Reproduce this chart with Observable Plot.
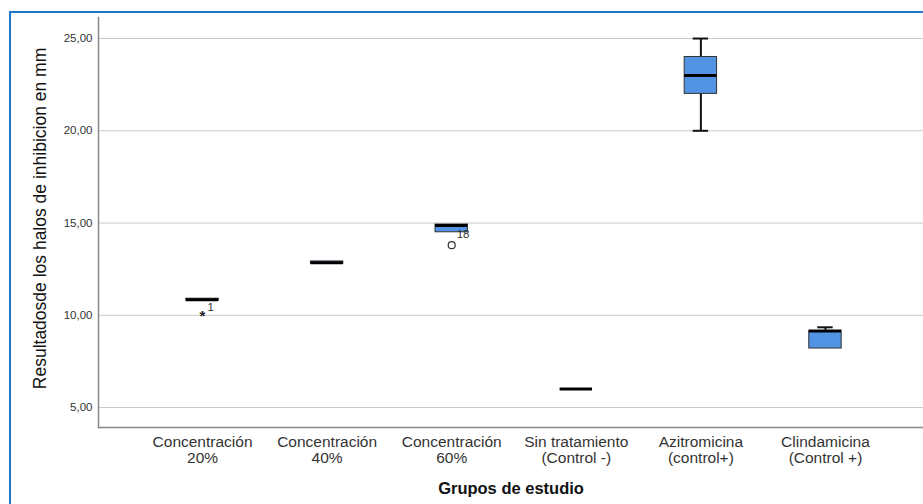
<!DOCTYPE html>
<html>
<head>
<meta charset="utf-8">
<script src="https://cdn.jsdelivr.net/npm/d3@7"></script>
<script src="https://cdn.jsdelivr.net/npm/@observablehq/plot@0.6"></script>
<style>
  html, body { margin: 0; padding: 0; background: #fff; overflow: hidden; }
  #wrap { position: relative; width: 923px; height: 504px; overflow: hidden; }
  #border { position: absolute; left: 9px; top: 11px; width: 1000px; height: 600px; border: 2px solid #1f78c9; box-sizing: border-box; pointer-events: none; }
  #chart { position: absolute; left: 0; top: 0; }
</style>
</head>
<body>
<div id="wrap"><div id="chart"></div><div id="border"></div></div>
<script>
const groups = ["Concentración\n20%", "Concentración\n40%", "Concentración\n60%", "Sin tratamiento\n(Control -)", "Azitromicina\n(control+)", "Clindamicina\n(Control +)"];
const whiskerLow  = [10.8, 12.8, 14.5, 6.0, 20.0, 8.2];
const q1          = [10.8, 12.8, 14.5, 6.0, 22.0, 8.2];
const median      = [10.85, 12.85, 14.87, 6.0, 23.0, 9.15];
const q3          = [10.9, 12.92, 14.92, 6.0, 24.0, 9.15];
const whiskerHigh = [10.9, 12.92, 14.92, 6.0, 25.0, 9.35];
const outlierGroup = [0, 2];
const outlierValue = [10.0, 13.8];
const outlierLabel = ["1", "18"];
const outlierSymbol = ["star", "circle"];
const yTicks = [5, 10, 15, 20, 25];

const boxes = groups.map((g, i) => ({group: g, lo: whiskerLow[i], q1: q1[i], med: median[i], q3: q3[i], hi: whiskerHigh[i]}));
const outliers = outlierGroup.map((gi, i) => ({group: groups[gi], value: outlierValue[i], label: outlierLabel[i], symbol: outlierSymbol[i]}));
const stars = outliers.filter(d => d.symbol === "star");
const circles = outliers.filter(d => d.symbol === "circle");

const fmt = d => d.toFixed(2).replace(".", ",");

const chart = Plot.plot({
  width: 923,
  height: 504,
  marginLeft: 98,
  marginRight: 0,
  marginTop: 17,
  marginBottom: 77,
  style: {fontFamily: "'Liberation Sans', Arial, sans-serif", background: "transparent", overflow: "visible"},
  x: {domain: groups, range: [98, 929], paddingInner: 0.74, paddingOuter: 0.705, round: false, label: null},
  y: {domain: [3.92, 26.14], label: null},
  marks: [
    Plot.gridY(yTicks, {stroke: "#c8c8c8", strokeOpacity: 1, strokeWidth: 1}),
    Plot.axisY(yTicks, {tickSize: 0, tickPadding: 6, tickFormat: fmt, fontSize: 11.5, fill: "#333", label: null}),
    Plot.axisX({tickSize: 0, tickPadding: 8, fontSize: 15.5, fill: "#333", label: null, lineHeight: 1.05}),
    Plot.ruleX(boxes.filter(d => d.lo < d.q1), {x: "group", y1: "lo", y2: "q1", stroke: "#111", strokeWidth: 2}),
    Plot.ruleX(boxes.filter(d => d.hi > d.q3), {x: "group", y1: "q3", y2: "hi", stroke: "#111", strokeWidth: 2}),
    Plot.tickY(boxes.filter(d => d.lo < d.q1), {x: "group", y: "lo", stroke: "#111", strokeWidth: 2, insetLeft: 8.5, insetRight: 8.5}),
    Plot.tickY(boxes.filter(d => d.hi > d.q3), {x: "group", y: "hi", stroke: "#111", strokeWidth: 2, insetLeft: 8.5, insetRight: 8.5}),
    Plot.rectY(boxes.filter(d => d.q3 > d.q1), {x: "group", y1: "q1", y2: "q3", fill: "#5293e3", stroke: "#333", strokeWidth: 1}),
    Plot.tickY(boxes, {x: "group", y: "med", stroke: "#000", strokeWidth: 3}),
    Plot.dot(circles, {x: "group", y: "value", r: 3.5, stroke: "#333", strokeWidth: 1.2, fill: "white"}),
    Plot.text(stars, {x: "group", y: "value", text: () => "*", fontSize: 15, fontWeight: "bold", fill: "#222", dy: 1}),
    Plot.text(stars, {x: "group", y: "value", text: "label", fontSize: 11.5, fill: "#333", textAnchor: "start", dx: 5, dy: -8}),
    Plot.text(circles, {x: "group", y: "value", text: "label", fontSize: 11.5, fill: "#333", textAnchor: "start", dx: 5, dy: -11}),
    Plot.text(["Resultadosde los halos de inhibicion en mm"], {frameAnchor: "left", textAnchor: "middle", rotate: -90, dx: -58, dy: -4, fontSize: 17.5, fill: "#111"}),
    Plot.text(["Grupos de estudio"], {frameAnchor: "bottom", textAnchor: "middle", dy: 66, fontSize: 16.5, fontWeight: "bold", fill: "#111"}),
    Plot.ruleY([3.92], {stroke: "#888", strokeWidth: 1.5}),
    Plot.frame({anchor: "left", stroke: "#888", strokeWidth: 1.5})
  ]
});
document.getElementById("chart").appendChild(chart);
</script>
</body>
</html>
